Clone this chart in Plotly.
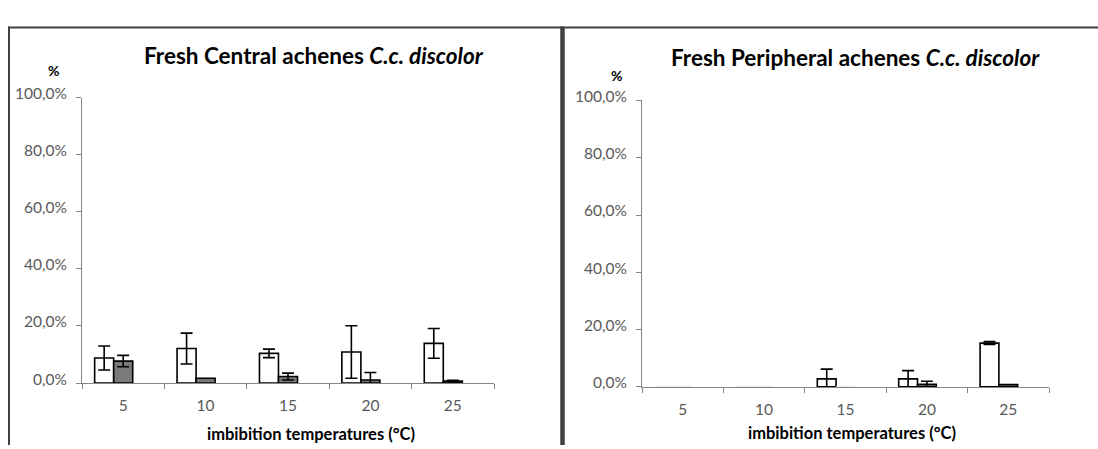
import plotly.graph_objects as go

W, H = 1098, 449

categories = ['5', '10', '15', '20', '25']
y_tickvals = [0, 20, 40, 60, 80, 100]
y_ticktext = ['0,0%', '20,0%', '40,0%', '60,0%', '80,0%', '100,0%']

central_white = [8.8, 12.1, 10.4, 10.9, 13.9]
central_white_err = [4.2, 5.4, 1.5, 9.2, 5.2]
central_grey = [7.7, 1.7, 2.3, 1.1, 0.7]
central_grey_err = [2.0, 0.0, 1.2, 2.6, 0.3]
central_third = [0, 0, 0, 0, 0]

peripheral_white = [0, 0, 2.8, 2.8, 15.3]
peripheral_white_err = [0, 0, 3.4, 2.9, 0.5]
peripheral_grey = [0, 0, 0, 0.9, 0.8]
peripheral_grey_err = [0, 0, 0, 1.1, 0]
peripheral_third = [0, 0, 0, 0, 0]

FONT = 'Lato'
TICKCOL = '#595959'
AXCOL = '#868686'


def px(x):
    return x / W


def py(y):
    return 1 - y / H


fig = go.Figure()


def add_series(vals, errs, color, xa, ya, name, visible_outline=True):
    if visible_outline:
        line_cols = ['#e6e6e6' if v == 0 else 'black' for v in vals]
        lw = 1.6
    else:
        line_cols = 'rgba(0,0,0,0)'
        lw = 0
    err_arr = None
    if errs is not None:
        # zero errors are left undrawn (no cap), as in the original chart
        err_arr = [e if e > 0 else 'NaN' for e in errs]
    fig.add_trace(go.Bar(
        x=categories, y=vals, name=name, xaxis=xa, yaxis=ya,
        marker=dict(color=color, line=dict(color=line_cols, width=lw)),
        error_y=dict(type='data', array=err_arr, visible=errs is not None,
                     color='black', thickness=1.6, width=6),
        showlegend=False,
    ))


add_series(central_white, central_white_err, 'white', 'x', 'y', 'white')
add_series(central_grey, central_grey_err, '#7a7a7a', 'x', 'y', 'grey')
add_series(central_third, None, 'rgba(0,0,0,0)', 'x', 'y', 'third', False)
add_series(peripheral_white, peripheral_white_err, 'white', 'x2', 'y2', 'white')
add_series(peripheral_grey, peripheral_grey_err, '#7a7a7a', 'x2', 'y2', 'grey')
add_series(peripheral_third, None, 'rgba(0,0,0,0)', 'x2', 'y2', 'third', False)

xcommon = dict(type='category', range=[-0.5, 4.5], showline=True, linecolor=AXCOL, linewidth=1,
               ticks='outside', tickson='boundaries', ticklen=5, tickcolor=AXCOL, tickwidth=1,
               showgrid=False, zeroline=False, fixedrange=True,
               tickfont=dict(family=FONT, size=15.5, color=TICKCOL), ticklabelstandoff=8)
ycommon = dict(range=[0, 100], showline=True, linecolor=AXCOL, linewidth=1,
               ticks='outside', ticklen=5, tickcolor=AXCOL, tickwidth=1,
               tickvals=y_tickvals, ticktext=y_ticktext,
               showgrid=False, zeroline=False, fixedrange=True,
               tickfont=dict(family=FONT, size=15.5, color=TICKCOL), ticklabelstandoff=6,
               ticklabelshift=-4)

fig.update_layout(
    width=W, height=H,
    margin=dict(l=0, r=0, t=0, b=0),
    paper_bgcolor='white', plot_bgcolor='white',
    barmode='group', bargap=0.307, bargroupgap=0,
    xaxis=dict(domain=[px(82), px(494)], anchor='y', **xcommon),
    yaxis=dict(domain=[py(384.5), py(87)], anchor='x', **ycommon),
    xaxis2=dict(domain=[px(642), px(1049)], anchor='y2', **xcommon),
    yaxis2=dict(domain=[py(388.5), py(90)], anchor='x2', **ycommon),
)

annots = [
    ('<b>Fresh Central achenes <i>C.c. discolor</i></b>', 314, 43, 22.5, 'black'),
    ('<b>Fresh Peripheral achenes <i>C.c. discolor</i></b>', 855, 45, 22.5, 'black'),
    ('<b>%</b>', 53, 59, 14, 'black'),
    ('<b>%</b>', 616, 64, 14, 'black'),
    ('<b>imbibition temperatures (°C)</b>', 311, 438, 16.5, 'black'),
    ('<b>imbibition temperatures (°C)</b>', 852, 437, 16.5, 'black'),
]
for text, x, y, size, col in annots:
    fig.add_annotation(text=text, x=px(x), y=py(y), xref='paper', yref='paper',
                       xanchor='center', yanchor='middle', showarrow=False,
                       font=dict(family=FONT, size=size, color=col))

line_col = '#404040'
fig.add_shape(type='line', xref='paper', yref='paper', x0=px(8), x1=1, y0=py(14), y1=py(14),
              line=dict(color=line_col, width=2))
fig.add_shape(type='line', xref='paper', yref='paper', x0=px(9), x1=px(9), y0=py(13), y1=0,
              line=dict(color=line_col, width=2))
fig.add_shape(type='line', xref='paper', yref='paper', x0=px(562.5), x1=px(562.5), y0=py(13), y1=0,
              line=dict(color=line_col, width=4.5))

fig.write_html('out.html', config={'displayModeBar': False},
               post_script="document.body.style.margin='0';document.body.style.overflow='hidden';")
